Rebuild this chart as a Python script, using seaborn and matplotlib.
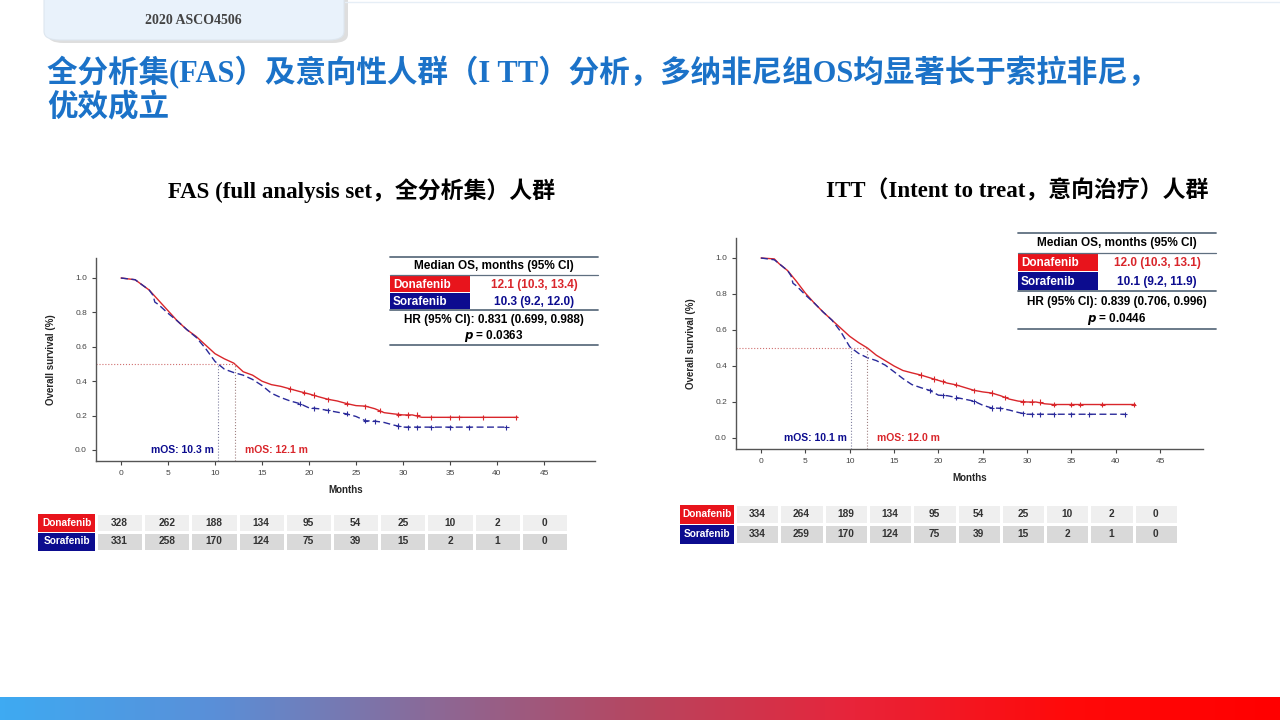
import numpy as np
import pandas as pd
import matplotlib
matplotlib.use('Agg')
import matplotlib.pyplot as plt
import seaborn as sns
from matplotlib.patches import Rectangle, FancyBboxPatch
from matplotlib.colors import ListedColormap, LinearSegmentedColormap

sns.set_style('white')
plt.rcParams['font.family'] = ['Liberation Sans', 'Noto Sans CJK SC']

W, H = 1280, 720
RED = '#e8141c'
NAVY = '#0c0c8f'
LINE_RED = '#d9262b'
LINE_BLUE = '#2a2a9a'

# ---- KM data ----
fas_dona_t = [0, 1.5, 2, 3, 4, 5, 6, 7, 8, 9, 10, 11, 12, 13, 14, 15, 16, 17, 18, 19, 20,
              21, 22, 23, 24, 25, 26, 27, 28, 29, 30, 31, 32, 36, 42.2]
fas_dona_s = [1.0, 0.99, 0.97, 0.93, 0.87, 0.81, 0.75, 0.70, 0.66, 0.61, 0.56, 0.53, 0.505,
              0.455, 0.435, 0.40, 0.38, 0.37, 0.355, 0.34, 0.326, 0.31, 0.295, 0.285, 0.27,
              0.258, 0.255, 0.24, 0.217, 0.21, 0.204, 0.204, 0.19, 0.19, 0.19]
fas_sora_t = [0, 1.5, 2, 3, 3.4, 3.6, 4, 5, 6, 7, 8, 9, 10, 11, 12, 13, 14, 15, 16, 17, 18,
              19, 20, 21, 22, 23, 24, 25, 26, 27, 28, 29, 30, 35, 41]
fas_sora_s = [1.0, 0.99, 0.97, 0.93, 0.90, 0.86, 0.845, 0.795, 0.75, 0.70, 0.655, 0.59, 0.515,
              0.47, 0.45, 0.435, 0.41, 0.375, 0.33, 0.305, 0.285, 0.27, 0.245, 0.24, 0.23,
              0.22, 0.21, 0.195, 0.17, 0.168, 0.16, 0.145, 0.133, 0.133, 0.133]

itt_dona_t = [0, 1.5, 2, 3, 4, 5, 6, 7, 8, 9, 10, 11, 12, 13, 14, 15, 16, 17, 18, 19, 20,
              21, 22, 23, 24, 25, 26, 27, 28, 29, 30, 31, 32, 33, 42.2]
itt_dona_s = [1.0, 0.995, 0.97, 0.93, 0.87, 0.805, 0.75, 0.70, 0.655, 0.61, 0.565, 0.53, 0.50,
              0.46, 0.43, 0.40, 0.375, 0.362, 0.35, 0.335, 0.32, 0.305, 0.295, 0.28, 0.265,
              0.256, 0.25, 0.235, 0.216, 0.205, 0.20, 0.20, 0.19, 0.186, 0.186]
itt_sora_t = [0, 1.5, 2, 3, 3.4, 3.6, 4, 5, 6, 7, 8, 9, 10, 11, 12, 13, 14, 15, 16, 17, 18,
              19, 20, 21, 22, 23, 24, 25, 26, 27, 28, 29, 30, 35, 41]
itt_sora_s = [1.0, 0.99, 0.97, 0.93, 0.90, 0.86, 0.845, 0.795, 0.75, 0.70, 0.655, 0.59, 0.507,
              0.47, 0.446, 0.43, 0.405, 0.368, 0.33, 0.297, 0.28, 0.265, 0.238, 0.235, 0.225,
              0.215, 0.205, 0.182, 0.167, 0.165, 0.155, 0.142, 0.132, 0.132, 0.132]

# censor marks on the tails
fas_dona_ct = [18, 19.5, 20.5, 22, 24, 26, 27.5, 29.5, 30.5, 31.5, 33, 35, 36, 38.5, 42]
fas_dona_cs = [0.355, 0.333, 0.32, 0.295, 0.27, 0.255, 0.228, 0.205, 0.204, 0.204, 0.19, 0.19, 0.19, 0.19, 0.19]
fas_sora_ct = [19, 20.5, 22, 24, 26, 27, 29.5, 30.5, 31.5, 33, 35, 37, 41]
fas_sora_cs = [0.27, 0.243, 0.23, 0.21, 0.17, 0.168, 0.14, 0.133, 0.133, 0.133, 0.133, 0.133, 0.133]
itt_dona_ct = [18, 19.5, 20.5, 22, 24, 26, 27.5, 29.5, 30.5, 31.5, 33, 35, 36, 38.5, 42]
itt_dona_cs = [0.35, 0.328, 0.315, 0.295, 0.265, 0.25, 0.226, 0.2, 0.2, 0.2, 0.186, 0.186, 0.186, 0.186, 0.186]
itt_sora_ct = [19, 20.5, 22, 24, 26, 27, 29.5, 30.5, 31.5, 33, 35, 37, 41]
itt_sora_cs = [0.265, 0.237, 0.225, 0.205, 0.167, 0.165, 0.137, 0.132, 0.132, 0.132, 0.132, 0.132, 0.132]

x_ticks = [0, 5, 10, 15, 20, 25, 30, 35, 40, 45]
y_ticks = [0.0, 0.2, 0.4, 0.6, 0.8, 1.0]

fas_median = {'Donafenib': 12.1, 'Sorafenib': 10.3}
itt_median = {'Donafenib': 12.0, 'Sorafenib': 10.1}
fas_ci = ['12.1 (10.3, 13.4)', '10.3 (9.2, 12.0)']
itt_ci = ['12.0 (10.3, 13.1)', '10.1 (9.2, 11.9)']
fas_hr = 'HR (95% CI): 0.831 (0.699, 0.988)'
itt_hr = 'HR (95% CI): 0.839 (0.706, 0.996)'
fas_p = '0.0363'
itt_p = '0.0446'

fas_risk_dona = [328, 262, 188, 134, 95, 54, 25, 10, 2, 0]
fas_risk_sora = [331, 258, 170, 124, 75, 39, 15, 2, 1, 0]
itt_risk_dona = [334, 264, 189, 134, 95, 54, 25, 10, 2, 0]
itt_risk_sora = [334, 259, 170, 124, 75, 39, 15, 2, 1, 0]

title_lines = ['全分析集(FAS）及意向性人群（I TT）分析，多纳非尼组OS均显著长于索拉非尼，', '优效成立']
sub_fas = 'FAS (full analysis set，全分析集）人群'
sub_itt = 'ITT（Intent to treat，意向治疗）人群'

fig = plt.figure(figsize=(12.8, 7.2), dpi=100)


def px_axes(x0, y0, x1, y1):
    return fig.add_axes([x0 / W, 1 - y1 / H, (x1 - x0) / W, (y1 - y0) / H])


def ftext(x, y, s, **kw):
    return fig.text(x / W, 1 - y / H, s, **kw)


def frect(x0, y0, x1, y1, color, **kw):
    fig.add_artist(Rectangle((x0 / W, 1 - y1 / H), (x1 - x0) / W, (y1 - y0) / H,
                             transform=fig.transFigure, facecolor=color, edgecolor='none', **kw))


def fline(x0, x1, y, color='#5f6f80', lw=1.3):
    fig.add_artist(plt.Line2D([x0 / W, x1 / W], [1 - y / H, 1 - y / H],
                              transform=fig.transFigure, color=color, lw=lw))


# ---- header tab ----
fig.add_artist(FancyBboxPatch((48 / W, 1 - 43 / H), 300 / W, 60 / H, transform=fig.transFigure,
                              boxstyle='round,pad=0,rounding_size=0.012', facecolor='#c8c8c8',
                              edgecolor='none', alpha=0.6))
fig.add_artist(FancyBboxPatch((44 / W, 1 - 40 / H), 300 / W, 60 / H, transform=fig.transFigure,
                              boxstyle='round,pad=0,rounding_size=0.012', facecolor='#e9f2fb',
                              edgecolor='#dde6ef', lw=0.8))
fline(345, 1280, 2, color='#e6eef6', lw=1.0)
ftext(193, 20, '2020 ASCO4506', ha='center', va='center', fontsize=10, fontweight='bold',
      color='#444444', family=['Liberation Serif'])

# ---- title ----
tfam = ['Liberation Serif', 'Noto Sans CJK SC']
ftext(47, 73, title_lines[0], ha='left', va='center', fontsize=22, fontweight='bold',
      color='#1b72c8', family=tfam)
ftext(47, 108, title_lines[1], ha='left', va='center', fontsize=22, fontweight='bold',
      color='#1b72c8', family=tfam)

ftext(361, 191, sub_fas, ha='center', va='center', fontsize=16.5, fontweight='bold',
      color='black', family=tfam)
ftext(1017, 191, sub_itt, ha='center', va='center', fontsize=16.5, fontweight='bold',
      color='black', family=tfam)


def km_panel(box, xzero, xpm, yzero, ypu, dt, ds, st, ss, dct, dcs, sct, scs, med):
    x0, y0, x1, y1 = box
    ax = px_axes(x0, y0, x1, y1)
    xlim = ((x0 - xzero) / xpm, (x1 - xzero) / xpm)
    ylim = ((yzero - y1) / ypu, (yzero - y0) / ypu)
    df = pd.concat([
        pd.DataFrame({'month': dt, 'surv': ds, 'arm': 'Donafenib'}),
        pd.DataFrame({'month': st, 'surv': ss, 'arm': 'Sorafenib'}),
    ], ignore_index=True)
    pal = {'Donafenib': LINE_RED, 'Sorafenib': LINE_BLUE}
    sns.lineplot(data=df, x='month', y='surv', hue='arm', style='arm', palette=pal,
                 dashes={'Donafenib': '', 'Sorafenib': (5, 2.5)}, estimator=None, sort=False,
                 lw=1.0, legend=False, ax=ax)
    cens = pd.concat([
        pd.DataFrame({'month': dct, 'surv': dcs, 'arm': 'Donafenib'}),
        pd.DataFrame({'month': sct, 'surv': scs, 'arm': 'Sorafenib'}),
    ], ignore_index=True)
    sns.scatterplot(data=cens, x='month', y='surv', hue='arm', palette=pal, marker='+',
                    s=14, linewidth=0.8, legend=False, ax=ax)
    md, ms = med['Donafenib'], med['Sorafenib']
    ax.plot([xlim[0], md], [0.5, 0.5], ls=':', color='#d07070', lw=0.8)
    ax.plot([ms, ms], [ylim[0], 0.5], ls=':', color='#8080a0', lw=0.8)
    ax.plot([md, md], [ylim[0], 0.5], ls=':', color='#a08080', lw=0.8)
    ax.text(ms - 0.4, 0.0, f'mOS: {ms} m', ha='right', va='center', color=NAVY,
            fontsize=7.5, fontweight='bold')
    ax.text(md + 1.1, 0.0, f'mOS: {md} m', ha='left', va='center', color=LINE_RED,
            fontsize=7.5, fontweight='bold')
    ax.set_xlim(xlim)
    ax.set_ylim(ylim)
    ax.set_xticks(x_ticks)
    ax.set_yticks(y_ticks)
    ax.set_yticklabels([f'{v:.1f}' for v in y_ticks])
    ax.tick_params(labelsize=6, colors='#444444', length=3, width=0.8, direction='out',
                   left=True, bottom=True)
    for s in ['top', 'right']:
        ax.spines[s].set_visible(False)
    for s in ['left', 'bottom']:
        ax.spines[s].set_color('#555555')
        ax.spines[s].set_linewidth(1.0)
    ax.set_xlabel('Months', fontsize=7, fontweight='bold', labelpad=6)
    ax.set_ylabel('Overall survival (%)', fontsize=7, fontweight='bold', labelpad=14)
    ax.patch.set_alpha(0)
    return ax


km_panel((96, 258, 595, 461), 121, 9.4, 450, 172,
         fas_dona_t, fas_dona_s, fas_sora_t, fas_sora_s,
         fas_dona_ct, fas_dona_cs, fas_sora_ct, fas_sora_cs, fas_median)
km_panel((736, 238, 1203, 449), 761, 8.87, 438, 180,
         itt_dona_t, itt_dona_s, itt_sora_t, itt_sora_s,
         itt_dona_ct, itt_dona_cs, itt_sora_ct, itt_sora_cs, itt_median)


def median_table(x0, x1, ytop, rh, ci, hr, p):
    xm = (x0 + x1) / 2
    split = x0 + 80
    fline(x0, x1, ytop)
    ftext(xm, ytop + rh * 0.55, 'Median OS, months (95% CI)', ha='center', va='center',
          fontsize=8.5, fontweight='bold', color='black')
    fline(x0, x1, ytop + rh * 1.05, lw=0.9)
    names = ['Donafenib', 'Sorafenib']
    cols = [RED, NAVY]
    tcols = [LINE_RED, NAVY]
    for i in range(2):
        ya = ytop + rh * (1.1 + i)
        frect(x0, ya, split, ya + rh - 1, cols[i])
        ftext(x0 + 3, ya + rh / 2, names[i], ha='left', va='center', fontsize=8.5,
              fontweight='bold', color='white')
        ftext((split + x1) / 2, ya + rh / 2, ci[i], ha='center', va='center', fontsize=8.5,
              fontweight='bold', color=tcols[i])
    fline(x0, x1, ytop + rh * 3.1)
    ftext(xm, ytop + rh * 3.65, hr, ha='center', va='center', fontsize=8.5,
          fontweight='bold', color='black')
    ftext(xm, ytop + rh * 4.6, f'$\\boldsymbol{{p}}$ = {p}', ha='center', va='center',
          fontsize=8.5, fontweight='bold', color='black')
    fline(x0, x1, ytop + rh * 5.1)


median_table(390, 598, 257, 17.2, fas_ci, fas_hr, fas_p)
median_table(1018, 1216, 233, 18.8, itt_ci, itt_hr, itt_p)

risk_cmap = ListedColormap(['#efefef', '#d9d9d9'])


def risk_table(lx0, x0, x1, y0, y1, dona, sora):
    ax = px_axes(x0, y0, x1, y1)
    bg = np.array([[0] * len(dona), [1] * len(sora)])
    counts = np.array([dona, sora])
    sns.heatmap(bg, annot=counts, fmt='d', cmap=risk_cmap, vmin=0, vmax=1, cbar=False,
                linewidths=1.0, linecolor='white', xticklabels=False, yticklabels=False,
                annot_kws=dict(fontsize=7.3, fontweight='bold', color='#333333'), ax=ax)
    rh = (y1 - y0) / 2
    for i, (name, col) in enumerate([('Donafenib', RED), ('Sorafenib', NAVY)]):
        frect(lx0, y0 + i * rh + 0.5, x0 - 1, y0 + (i + 1) * rh - 0.5, col)
        ftext((lx0 + x0) / 2, y0 + (i + 0.5) * rh, name, ha='center', va='center',
              fontsize=7.3, fontweight='bold', color='white')


risk_table(38, 96, 568, 513, 551, fas_risk_dona, fas_risk_sora)
risk_table(680, 735, 1178, 504, 544, itt_risk_dona, itt_risk_sora)

# ---- bottom gradient bar ----
bar = px_axes(0, 697, 1280, 720)
grad_cmap = LinearSegmentedColormap.from_list(
    'bar', ['#3eaaf2', '#5a8fd8', '#8a6a98', '#b64660', '#e8243a', '#ff0a0a', '#ff0000'])
bar.imshow(np.linspace(0, 1, 256)[None, :], aspect='auto', cmap=grad_cmap)
bar.axis('off')

fig.savefig('out.png', dpi=100)
